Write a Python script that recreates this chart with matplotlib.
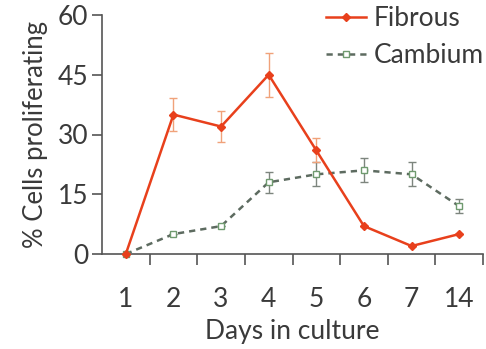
import matplotlib
matplotlib.use("Agg")
import matplotlib.pyplot as plt
from matplotlib.lines import Line2D
import numpy as np

days = ["1", "2", "3", "4", "5", "6", "7", "14"]
fibrous = [0, 35, 32, 45, 26, 7, 2, 5]
fibrous_err = [0, 4.2, 4, 5.5, 3, 0, 0, 0]
cambium = [0, 5, 7, 18, 20, 21, 20, 12]
cambium_err = [0, 0, 0, 2.7, 3, 3, 3, 1.8]
yticks = [0, 15, 30, 45, 60]

plt.rcParams['font.family'] = ['Lato', 'DejaVu Sans']
fig = plt.figure(figsize=(4.86, 3.49), dpi=100)
ax = fig.add_axes([102/486, 95/349, (483-102)/486, (254-15)/349])

x = np.arange(len(days))
red = '#e8401c'
gline = '#5d6b60'
gmark = '#6f9a6f'
txt = '#3a3a3a'
ax.errorbar(x, fibrous, yerr=fibrous_err, color=red, lw=1.8, marker='D', ms=4.5,
            mfc=red, mec=red, ecolor='#f0a27a', elinewidth=1.0, capsize=3,
            capthick=1.0, clip_on=False, zorder=3)
ax.errorbar(x, cambium, yerr=cambium_err, color=gline, lw=1.8, ls=(0, (2.5, 2)),
            marker='s', ms=5, mfc='white', mec=gmark, mew=1.0,
            ecolor='#7d857e', elinewidth=1.0, capsize=3, capthick=1.0,
            clip_on=False, zorder=2)

ax.set_xlim(-0.5, 7.5)
ax.set_ylim(0, 60)
ax.set_yticks(yticks)
ax.set_xticks(x)
ax.set_xticklabels(days)
ax.set_xticks(np.arange(0.5, 8, 1), minor=True)
ax.tick_params(axis='x', which='major', length=0, pad=24, labelsize=19, labelcolor=txt)
ax.tick_params(axis='x', which='minor', length=8, width=1.2, direction='out', color='#555555')
ax.tick_params(axis='y', length=7, width=1.2, direction='out', color='#555555',
               labelsize=19, labelcolor=txt, pad=3)
for s in ['top', 'right']:
    ax.spines[s].set_visible(False)
for s in ['left', 'bottom']:
    ax.spines[s].set_color('#555555')
    ax.spines[s].set_linewidth(1.2)

ax.set_xlabel('Days in culture', fontsize=19, color=txt, labelpad=5)
ax.set_ylabel('% Cells proliferating', fontsize=18.5, color=txt, labelpad=7)

handles = [
    Line2D([], [], color=red, lw=1.8, marker='D', ms=4.5, mfc=red, mec=red),
    Line2D([], [], color=gline, lw=1.8, ls=(0, (2.5, 2)), marker='s', ms=5,
           mfc='white', mec=gmark, mew=1.0),
]
leg = ax.legend(handles, ['Fibrous', 'Cambium'], loc='upper right',
                bbox_to_anchor=(1.03, 1.08), frameon=False,
                fontsize=19, handlelength=1.5, handletextpad=0.3, labelspacing=0.45,
                borderaxespad=0)
for t in leg.get_texts():
    t.set_color(txt)

fig.savefig('out.png', dpi=100)
